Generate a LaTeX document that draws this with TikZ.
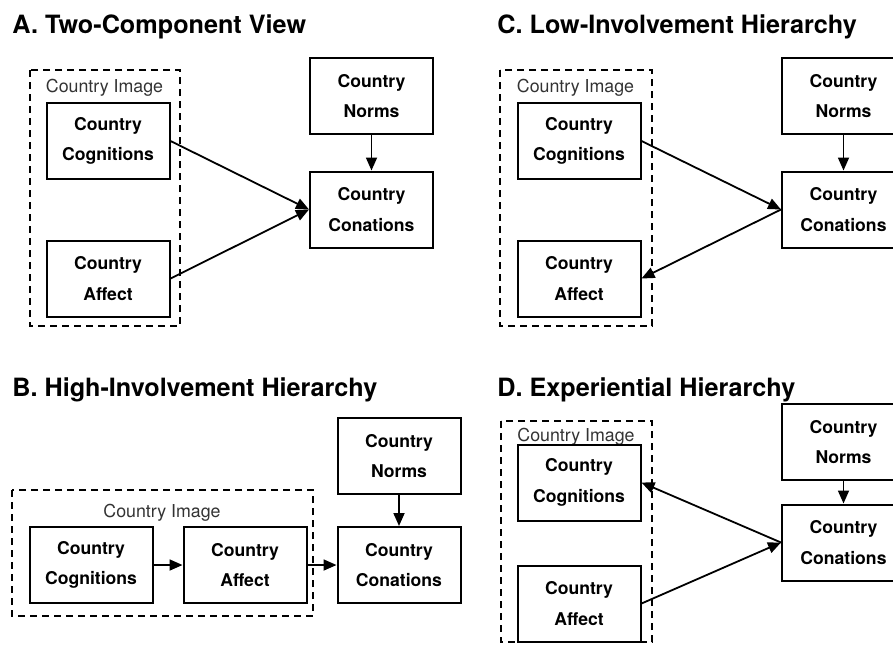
\documentclass[tikz,border=0pt]{standalone}
\usepackage{fontspec}
\setmainfont{TeX Gyre Heros}
\usetikzlibrary{arrows.meta,positioning}

\begin{document}
\begin{tikzpicture}[x=0.5pt,y=-0.5pt,
    construct/.style={draw,line width=1pt,align=center,inner sep=0pt,
      minimum width=61.5pt,minimum height=38pt,
      font=\fontsize{8.8}{15.2}\selectfont\bfseries},
    imageframe/.style={draw,line width=0.7pt,dash pattern=on 3.5pt off 2.5pt},
    framelabel/.style={inner sep=0pt,text=black!80,font=\fontsize{8.9}{10}\selectfont},
    paneltitle/.style={anchor=base west,inner sep=0pt,font=\fontsize{12.6}{14}\selectfont\bfseries},
    link/.style={line width=0.9pt,-{Triangle[length=6.5pt,width=5.5pt]}}]
    \useasboundingbox (0,0) rectangle (893,644);
    \clip (0,0) rectangle (893,644);

    % A. Two-Component View
    \node[paneltitle] (titleA) at (12,33) {A. Two-Component View};
    \draw[imageframe] (30,70) rectangle (180,326);
    \node[framelabel] (imgA) at (104.5,88) {Country Image};
    \node[construct] (cogA) at (108,141) {Country\\Cognitions};
    \node[construct] (affA) at (108,278.5) {Country\\Affect};
    \node[construct] (normA) at (371.5,96) {Country\\Norms};
    \node[construct] (conA) at (371.5,209.5) {Country\\Conations};
    \draw[link] (cogA.east) -- (conA.west);
    \draw[link] (affA.east) -- (conA.west);
    \draw[link] (normA) -- (conA);

    % C. Low-Involvement Hierarchy
    \node[paneltitle] (titleC) at (497,33) {C. Low-Involvement Hierarchy};
    \draw[imageframe] (500,70) rectangle (652,326);
    \node[framelabel] (imgC) at (575.5,88) {Country Image};
    \node[construct] (cogC) at (579,141) {Country\\Cognitions};
    \node[construct] (affC) at (579,278.5) {Country\\Affect};
    \node[construct] (normC) at (843.5,96) {Country\\Norms};
    \node[construct] (conC) at (843.5,209.5) {Country\\Conations};
    \draw[link] (cogC.east) -- (conC.west);
    \draw[link] (conC.west) -- (affC.east);
    \draw[link] (normC) -- (conC);

    % B. High-Involvement Hierarchy
    \node[paneltitle] (titleB) at (12,396) {B. High-Involvement Hierarchy};
    \draw[imageframe] (12,490) rectangle (313,616);
    \node[framelabel] (imgB) at (162,513) {Country Image};
    \begin{scope}[every node/.append style={minimum width=59pt,minimum height=36pt}]
    \node[construct] (cogB) at (91,565) {Country\\Cognitions};
    \node[construct] (affB) at (245,565) {Country\\Affect};
    \node[construct] (normB) at (399,456) {Country\\Norms};
    \node[construct] (conB) at (399,565) {Country\\Conations};
    \end{scope}
    \draw[link] (cogB) -- (affB);
    \draw[link] (affB) -- (conB);
    \draw[link] (normB) -- (conB);

    % D. Experiential Hierarchy
    \node[paneltitle] (titleD) at (497,396) {D. Experiential Hierarchy};
    \draw[imageframe] (501,421) rectangle (652,642);
    \node[framelabel] (imgD) at (576,437) {Country Image};
    \begin{scope}[every node/.append style={minimum height=33.5pt}]
    \node[construct] (cogD) at (579,482.5) {Country\\Cognitions};
    \node[construct] (affD) at (579,603.5) {Country\\Affect};
    \node[construct] (normD) at (843.5,442) {Country\\Norms};
    \node[construct] (conD) at (843.5,542.5) {Country\\Conations};
    \end{scope}
    \draw[link] (conD.west) -- (cogD.east);
    \draw[link] (affD.east) -- (conD.west);
    \draw[link] (normD) -- (conD);
\end{tikzpicture}
\end{document}
